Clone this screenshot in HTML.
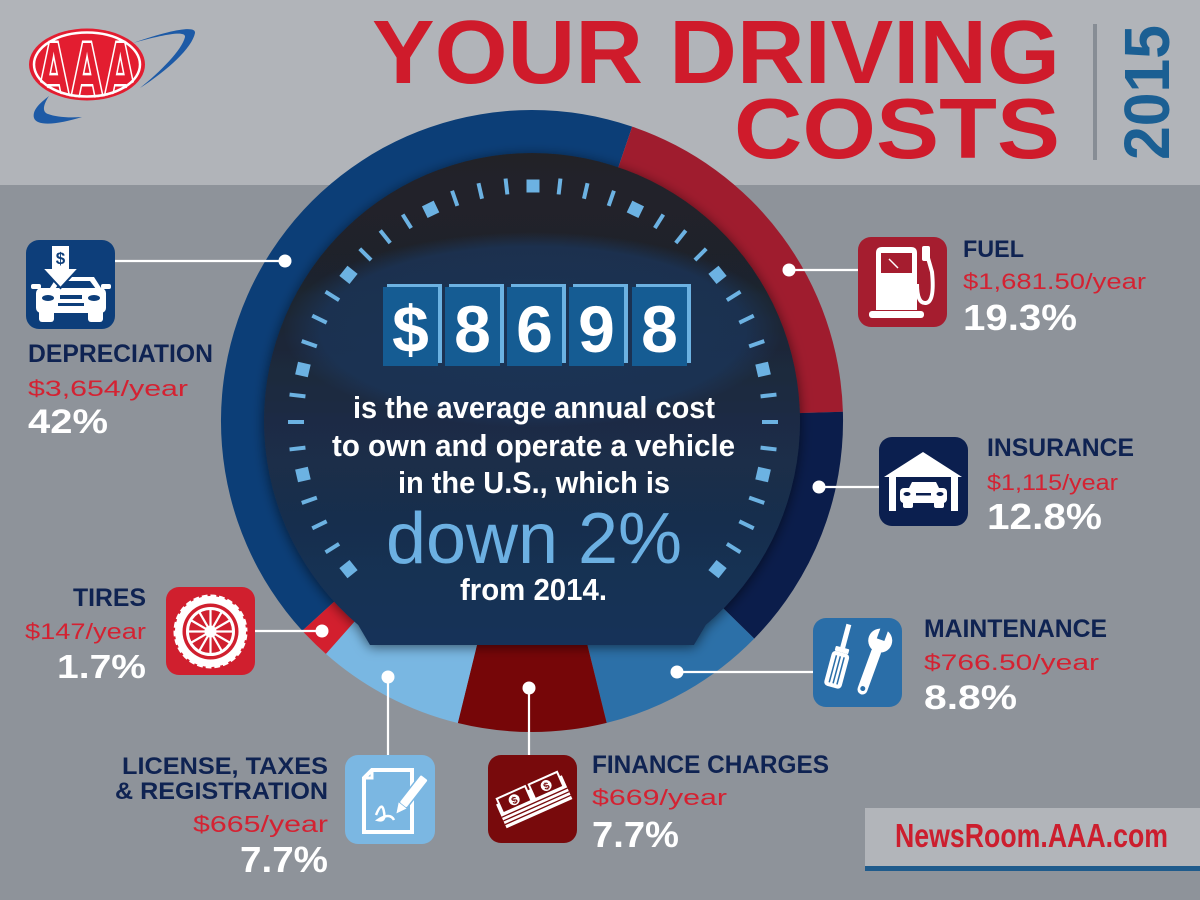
<!DOCTYPE html>
<html><head><meta charset="utf-8"><title>Your Driving Costs 2015</title>
<style>
html,body{margin:0;padding:0;background:#8e939a;}
svg{display:block;}
text{font-family:"Liberation Sans",Arial,sans-serif;}
</style></head>
<body>
<svg width="1200" height="900" viewBox="0 0 1200 900" xmlns="http://www.w3.org/2000/svg">
<defs>
  <linearGradient id="innerG" x1="0" y1="0" x2="0" y2="1">
    <stop offset="0" stop-color="#212328"/>
    <stop offset="0.25" stop-color="#1f242d"/>
    <stop offset="0.55" stop-color="#1b2c45"/>
    <stop offset="1" stop-color="#163259"/>
  </linearGradient>
  <radialGradient id="glow" cx="0.5" cy="0.5" r="0.5">
    <stop offset="0" stop-color="#1b3558" stop-opacity="0.9"/>
    <stop offset="0.85" stop-color="#1b3457" stop-opacity="0.8"/>
    <stop offset="1" stop-color="#1b3457" stop-opacity="0"/>
  </radialGradient>
  <filter id="sh" x="-20%" y="-20%" width="140%" height="140%">
    <feDropShadow dx="0" dy="2" stdDeviation="6" flood-color="#000" flood-opacity="0.55"/>
  </filter>
  <clipPath id="innerClip">
    <path d="M370,645 L358.2,625 A268,268 0 1,1 705.8,625 L694,645 Z"/>
  </clipPath>
  <clipPath id="logoClip">
    <ellipse cx="87" cy="64.5" rx="55" ry="33.5"/>
  </clipPath>
</defs>

<!-- backgrounds -->
<rect x="0" y="0" width="1200" height="900" fill="#8e939a"/>
<rect x="0" y="0" width="1200" height="185" fill="#b1b4b9"/>

<!-- AAA logo -->
<path d="M140,88 C168,70 192,48 195,33 C196,26 176,28 133,43 C162,35 186,30 185,37 C182,50 160,72 140,88 Z" fill="#1d5aa6"/>
<path d="M82,117 C60,124 37,127 34,118 C32,110 40,103 49,96 C43,105 42,112 48,114 C56,117 68,118 82,117 Z" fill="#1d5aa6"/>
<ellipse cx="87" cy="64.5" rx="58" ry="36" fill="#e31d30"/>
<g clip-path="url(#logoClip)">
  <text x="37" y="98" font-size="80" font-weight="bold" fill="#e31d30" stroke="#fff" stroke-width="5" paint-order="stroke" textLength="100" lengthAdjust="spacingAndGlyphs">AAA</text>
</g>
<ellipse cx="87" cy="64.5" rx="53" ry="32" fill="none" stroke="#fff" stroke-width="2.5"/>

<!-- Title -->
<text x="372" y="83" font-size="90" font-weight="bold" fill="#cf1b2b" textLength="688" lengthAdjust="spacingAndGlyphs">YOUR DRIVING</text>
<text x="734" y="158" font-size="85" font-weight="bold" fill="#cf1b2b" textLength="326" lengthAdjust="spacingAndGlyphs">COSTS</text>
<rect x="1093" y="24" width="4" height="136" fill="#878d95"/>
<text transform="translate(1169,160) rotate(-90)" x="0" y="0" font-size="64" font-weight="bold" fill="#1b5f93" textLength="135" lengthAdjust="spacingAndGlyphs">2015</text>

<!-- Ring segments -->
<path d="M532,421 L302.3,630.7 A311,311 0 0,1 632.2,126.6 Z" fill="#0c3e77"/>
<path d="M532,421 L632.2,126.6 A311,311 0 0,1 842.9,411.8 Z" fill="#9f1c2e"/>
<path d="M532,421 L842.9,411.8 A311,311 0 0,1 754.2,638.6 Z" fill="#0b1d4b"/>
<path d="M532,421 L754.2,638.6 A311,311 0 0,1 606.7,722.9 Z" fill="#2c70a8"/>
<path d="M532,421 L606.7,722.9 A311,311 0 0,1 457.8,723.0 Z" fill="#760608"/>
<path d="M532,421 L457.8,723.0 A311,311 0 0,1 325.9,653.9 Z" fill="#79b7e2"/>
<path d="M532,421 L325.9,653.9 A311,311 0 0,1 302.3,630.7 Z" fill="#d31f2e"/>

<!-- Inner dial -->
<path d="M370,645 L358.2,625 A268,268 0 1,1 705.8,625 L694,645 Z" fill="url(#innerG)" filter="url(#sh)"/>
<g clip-path="url(#innerClip)">
  <ellipse cx="533" cy="330" rx="250" ry="98" fill="url(#glow)"/>
</g>

<!-- Ticks -->
<g transform="translate(533,422)" fill="#6cb2e2">
  <rect x="-6.5" y="-242.5" width="13" height="13" transform="rotate(-128.57)"/>
  <rect x="-2" y="-245" width="4" height="16" transform="rotate(-122.14)"/>
  <rect x="-2" y="-245" width="4" height="16" transform="rotate(-115.71)"/>
  <rect x="-2" y="-245" width="4" height="16" transform="rotate(-109.29)"/>
  <rect x="-6.5" y="-242.5" width="13" height="13" transform="rotate(-102.86)"/>
  <rect x="-2" y="-245" width="4" height="16" transform="rotate(-96.43)"/>
  <rect x="-2" y="-245" width="4" height="16" transform="rotate(-90)"/>
  <rect x="-2" y="-245" width="4" height="16" transform="rotate(-83.57)"/>
  <rect x="-6.5" y="-242.5" width="13" height="13" transform="rotate(-77.14)"/>
  <rect x="-2" y="-245" width="4" height="16" transform="rotate(-70.71)"/>
  <rect x="-2" y="-245" width="4" height="16" transform="rotate(-64.29)"/>
  <rect x="-2" y="-245" width="4" height="16" transform="rotate(-57.86)"/>
  <rect x="-6.5" y="-242.5" width="13" height="13" transform="rotate(-51.43)"/>
  <rect x="-2" y="-245" width="4" height="16" transform="rotate(-45)"/>
  <rect x="-2" y="-245" width="4" height="16" transform="rotate(-38.57)"/>
  <rect x="-2" y="-245" width="4" height="16" transform="rotate(-32.14)"/>
  <rect x="-6.5" y="-242.5" width="13" height="13" transform="rotate(-25.71)"/>
  <rect x="-2" y="-245" width="4" height="16" transform="rotate(-19.29)"/>
  <rect x="-2" y="-245" width="4" height="16" transform="rotate(-12.86)"/>
  <rect x="-2" y="-245" width="4" height="16" transform="rotate(-6.43)"/>
  <rect x="-6.5" y="-242.5" width="13" height="13"/>
  <rect x="-2" y="-245" width="4" height="16" transform="rotate(6.43)"/>
  <rect x="-2" y="-245" width="4" height="16" transform="rotate(12.86)"/>
  <rect x="-2" y="-245" width="4" height="16" transform="rotate(19.29)"/>
  <rect x="-6.5" y="-242.5" width="13" height="13" transform="rotate(25.71)"/>
  <rect x="-2" y="-245" width="4" height="16" transform="rotate(32.14)"/>
  <rect x="-2" y="-245" width="4" height="16" transform="rotate(38.57)"/>
  <rect x="-2" y="-245" width="4" height="16" transform="rotate(45)"/>
  <rect x="-6.5" y="-242.5" width="13" height="13" transform="rotate(51.43)"/>
  <rect x="-2" y="-245" width="4" height="16" transform="rotate(57.86)"/>
  <rect x="-2" y="-245" width="4" height="16" transform="rotate(64.29)"/>
  <rect x="-2" y="-245" width="4" height="16" transform="rotate(70.71)"/>
  <rect x="-6.5" y="-242.5" width="13" height="13" transform="rotate(77.14)"/>
  <rect x="-2" y="-245" width="4" height="16" transform="rotate(83.57)"/>
  <rect x="-2" y="-245" width="4" height="16" transform="rotate(90)"/>
  <rect x="-2" y="-245" width="4" height="16" transform="rotate(96.43)"/>
  <rect x="-6.5" y="-242.5" width="13" height="13" transform="rotate(102.86)"/>
  <rect x="-2" y="-245" width="4" height="16" transform="rotate(109.29)"/>
  <rect x="-2" y="-245" width="4" height="16" transform="rotate(115.71)"/>
  <rect x="-2" y="-245" width="4" height="16" transform="rotate(122.14)"/>
  <rect x="-6.5" y="-242.5" width="13" height="13" transform="rotate(128.57)"/>
</g>

<!-- Counter boxes -->
<g>
  <rect x="387" y="284" width="55" height="79" fill="#6cb2e2"/>
  <rect x="449" y="284" width="55" height="79" fill="#6cb2e2"/>
  <rect x="511" y="284" width="55" height="79" fill="#6cb2e2"/>
  <rect x="573" y="284" width="55" height="79" fill="#6cb2e2"/>
  <rect x="636" y="284" width="55" height="79" fill="#6cb2e2"/>
  <rect x="383" y="287" width="55" height="79" fill="#155c93"/>
  <rect x="445" y="287" width="55" height="79" fill="#155c93"/>
  <rect x="507" y="287" width="55" height="79" fill="#155c93"/>
  <rect x="569" y="287" width="55" height="79" fill="#155c93"/>
  <rect x="632" y="287" width="55" height="79" fill="#155c93"/>
  <g font-size="66" font-weight="bold" fill="#fff" text-anchor="middle">
    <text x="410.5" y="352">$</text>
    <text x="472.5" y="352">8</text>
    <text x="534.5" y="352">6</text>
    <text x="596.5" y="352">9</text>
    <text x="659.5" y="352">8</text>
  </g>
</g>

<!-- Center text -->
<text x="353" y="418" font-size="31" font-weight="bold" fill="#fff" textLength="362" lengthAdjust="spacingAndGlyphs">is the average annual cost</text>
<text x="332" y="456" font-size="31" font-weight="bold" fill="#fff" textLength="403" lengthAdjust="spacingAndGlyphs">to own and operate a vehicle</text>
<text x="398" y="493" font-size="31" font-weight="bold" fill="#fff" textLength="272" lengthAdjust="spacingAndGlyphs">in the U.S., which is</text>
<text x="386" y="563" font-size="72" fill="#6cb0e2" textLength="296" lengthAdjust="spacingAndGlyphs">down 2%</text>
<text x="460" y="600" font-size="31" font-weight="bold" fill="#fff" textLength="147" lengthAdjust="spacingAndGlyphs">from 2014.</text>

<!-- Connector lines and dots -->
<g stroke="#fff" stroke-width="2.2">
  <line x1="115" y1="261" x2="285" y2="261"/>
  <line x1="789" y1="270" x2="858" y2="270"/>
  <line x1="819" y1="487" x2="879" y2="487"/>
  <line x1="677" y1="672" x2="813" y2="672"/>
  <line x1="529" y1="688" x2="529" y2="755"/>
  <line x1="388" y1="677" x2="388" y2="755"/>
  <line x1="255" y1="631" x2="322" y2="631"/>
</g>
<g fill="#fff">
  <circle cx="285" cy="261" r="6.5"/>
  <circle cx="789" cy="270" r="6.5"/>
  <circle cx="819" cy="487" r="6.5"/>
  <circle cx="677" cy="672" r="6.5"/>
  <circle cx="529" cy="688" r="6.5"/>
  <circle cx="388" cy="677" r="6.5"/>
  <circle cx="322" cy="631" r="6.5"/>
</g>

<!-- Depreciation icon -->
<rect x="26" y="240" width="89" height="89" rx="13" fill="#0d3e7a"/>
<g>
  <path d="M48,291 L57,277 L94,277 L103,291 Z" fill="#fff"/>
  <path d="M55,289 L61,281 L90,281 L96,289 Z" fill="#0d3e7a"/>
  <rect x="36" y="288" width="70" height="25" rx="5" fill="#fff"/>
  <rect x="39" y="308" width="15" height="14" rx="3" fill="#fff"/>
  <rect x="88" y="308" width="15" height="14" rx="3" fill="#fff"/>
  <rect x="31" y="284" width="10" height="5" rx="2" fill="#fff"/>
  <rect x="101" y="284" width="10" height="5" rx="2" fill="#fff"/>
  <ellipse cx="48" cy="298" rx="6" ry="3" fill="#0d3e7a"/>
  <ellipse cx="94" cy="298" rx="6" ry="3" fill="#0d3e7a"/>
  <rect x="60" y="295" width="22" height="4" fill="#0d3e7a"/>
  <rect x="58" y="303" width="26" height="3" fill="#0d3e7a"/>
  <path d="M51,245 L70,245 L70,268 L79,268 L60.5,288 L42,268 L51,268 Z" fill="#fff" stroke="#0d3e7a" stroke-width="2"/>
  <text x="60.5" y="264" font-size="17" font-weight="bold" fill="#0d3e7a" text-anchor="middle">$</text>
</g>

<!-- Fuel icon -->
<rect x="858" y="237" width="89" height="90" rx="13" fill="#a51d2f"/>
<g>
  <path d="M876,310 L876,253 Q876,247 882,247 L911,247 Q917,247 917,253 L917,310 Z" fill="#fff"/>
  <rect x="881" y="253" width="31" height="20" fill="#a51d2f"/>
  <line x1="889" y1="259" x2="898" y2="268" stroke="#fff" stroke-width="1.5"/>
  <rect x="869" y="311" width="55" height="7" rx="3" fill="#fff"/>
  <path d="M917,284 Q917,304 926,303 Q935,302 932,272 L928,258" fill="none" stroke="#fff" stroke-width="4"/>
  <rect x="922" y="246" width="8" height="15" rx="2" fill="#fff"/>
</g>

<!-- Insurance icon -->
<rect x="879" y="437" width="89" height="89" rx="13" fill="#0b1f4f"/>
<g fill="#fff">
  <polygon points="884,477 923,452 962,477"/>
  <rect x="889" y="476" width="7" height="35"/>
  <rect x="951" y="476" width="7" height="35"/>
  <path d="M908,490 L912,482 L936,482 L940,490 Z"/>
  <rect x="900" y="488" width="47" height="15" rx="4"/>
  <rect x="903" y="499" width="10" height="9" rx="2"/>
  <rect x="934" y="499" width="10" height="9" rx="2"/>
  <ellipse cx="907" cy="494" rx="3.5" ry="2" fill="#0b1f4f"/>
  <ellipse cx="940" cy="494" rx="3.5" ry="2" fill="#0b1f4f"/>
  <rect x="916" y="493" width="15" height="2.5" fill="#0b1f4f"/>
</g>

<!-- Maintenance icon -->
<rect x="813" y="618" width="89" height="89" rx="13" fill="#2a6ea8"/>
<g fill="#fff">
  <g transform="translate(838,665) rotate(15)">
    <rect x="-2.5" y="-42" width="5" height="26"/>
    <rect x="-7" y="-18" width="14" height="5" rx="1"/>
    <rect x="-9" y="-13" width="18" height="36" rx="4"/>
    <g stroke="#2a6ea8" stroke-width="1.5">
      <line x1="-4" y1="-9" x2="-4" y2="19"/>
      <line x1="0" y1="-9" x2="0" y2="19"/>
      <line x1="4" y1="-9" x2="4" y2="19"/>
    </g>
  </g>
  <g transform="translate(871,666) rotate(20)">
    <rect x="-5" y="-20" width="10" height="50" rx="5"/>
    <circle cx="0" cy="-27" r="12"/>
    <rect x="-4" y="-44" width="8" height="16" fill="#2a6ea8"/>
    <circle cx="0" cy="24" r="2.5" fill="#2a6ea8"/>
  </g>
</g>

<!-- Tires icon -->
<rect x="166" y="587" width="89" height="88" rx="13" fill="#d01f2e"/>
<g>
  <circle cx="210.5" cy="631.5" r="37" fill="#fff"/>
  <circle cx="210.5" cy="631.5" r="37" fill="none" stroke="#d01f2e" stroke-width="3" stroke-dasharray="3 6"/>
  <circle cx="210.5" cy="631.5" r="28" fill="#d01f2e"/>
  <circle cx="210.5" cy="631.5" r="23" fill="none" stroke="#fff" stroke-width="3"/>
  <g stroke="#fff" stroke-width="2.2">
    <line x1="210.5" y1="608.5" x2="210.5" y2="654.5"/>
    <line x1="187.5" y1="631.5" x2="233.5" y2="631.5"/>
    <line x1="199" y1="611.6" x2="222" y2="651.4"/>
    <line x1="222" y1="611.6" x2="199" y2="651.4"/>
    <line x1="190.6" y1="620" x2="230.4" y2="643"/>
    <line x1="190.6" y1="643" x2="230.4" y2="620"/>
  </g>
  <circle cx="210.5" cy="631.5" r="6" fill="#fff"/>
</g>

<!-- License icon -->
<rect x="345" y="755" width="90" height="89" rx="13" fill="#7bb7e2"/>
<g>
  <path d="M372,770 L412,770 L412,832 L364,832 L364,778 Z" fill="none" stroke="#fff" stroke-width="4"/>
  <path d="M364,778 L372,778 L372,770" fill="none" stroke="#fff" stroke-width="3"/>
  <g transform="translate(410,796) rotate(38)">
    <rect x="-5" y="-24" width="10" height="36" rx="2" fill="#fff" stroke="#7bb7e2" stroke-width="1.5"/>
    <polygon points="-5,12 5,12 0,22" fill="#fff"/>
  </g>
  <path d="M376,815 Q382,800 384,812 Q386,822 378,820 Q390,812 394,820" fill="none" stroke="#fff" stroke-width="2.5"/>
</g>

<!-- Finance icon -->
<rect x="488" y="755" width="89" height="88" rx="13" fill="#780a0c"/>
<g transform="translate(533,799) rotate(-24)">
  <rect x="-36" y="-10" width="72" height="26" fill="#fff"/>
  <g stroke="#780a0c" stroke-width="1.3">
    <line x1="-36" y1="4" x2="36" y2="4"/>
    <line x1="-36" y1="8" x2="36" y2="8"/>
    <line x1="-36" y1="12" x2="36" y2="12"/>
  </g>
  <rect x="-33" y="-15" width="31" height="16" fill="#780a0c" stroke="#fff" stroke-width="2"/>
  <rect x="2" y="-15" width="31" height="16" fill="#780a0c" stroke="#fff" stroke-width="2"/>
  <circle cx="-17.5" cy="-7" r="5.5" fill="#fff"/>
  <circle cx="17.5" cy="-7" r="5.5" fill="#fff"/>
  <text x="-17.5" y="-3" font-size="10" font-weight="bold" fill="#780a0c" text-anchor="middle">$</text>
  <text x="17.5" y="-3" font-size="10" font-weight="bold" fill="#780a0c" text-anchor="middle">$</text>
</g>

<!-- Labels -->
<g font-weight="bold">
  <!-- Depreciation -->
  <text x="28" y="362" font-size="25" fill="#0f2352" textLength="185" lengthAdjust="spacingAndGlyphs">DEPRECIATION</text>
  <text x="28" y="396" font-size="22" fill="#d42232" font-weight="normal" textLength="160" lengthAdjust="spacingAndGlyphs">$3,654/year</text>
  <text x="28" y="433" font-size="34" fill="#fff" textLength="80" lengthAdjust="spacingAndGlyphs">42%</text>

  <!-- Fuel -->
  <text x="963" y="257" font-size="24" fill="#0f2352" textLength="61" lengthAdjust="spacingAndGlyphs">FUEL</text>
  <text x="963" y="289" font-size="22" fill="#d42232" font-weight="normal" textLength="183" lengthAdjust="spacingAndGlyphs">$1,681.50/year</text>
  <text x="963" y="330" font-size="36" fill="#fff" textLength="114" lengthAdjust="spacingAndGlyphs">19.3%</text>

  <!-- Insurance -->
  <text x="987" y="456" font-size="25" fill="#0f2352" textLength="147" lengthAdjust="spacingAndGlyphs">INSURANCE</text>
  <text x="987" y="490" font-size="22" fill="#d42232" font-weight="normal" textLength="131" lengthAdjust="spacingAndGlyphs">$1,115/year</text>
  <text x="987" y="529" font-size="36" fill="#fff" textLength="115" lengthAdjust="spacingAndGlyphs">12.8%</text>

  <!-- Maintenance -->
  <text x="924" y="637" font-size="25" fill="#0f2352" textLength="183" lengthAdjust="spacingAndGlyphs">MAINTENANCE</text>
  <text x="924" y="670" font-size="22" fill="#d42232" font-weight="normal" textLength="175" lengthAdjust="spacingAndGlyphs">$766.50/year</text>
  <text x="924" y="709" font-size="34" fill="#fff" textLength="93" lengthAdjust="spacingAndGlyphs">8.8%</text>

  <!-- Finance -->
  <text x="592" y="773" font-size="25" fill="#0f2352" textLength="237" lengthAdjust="spacingAndGlyphs">FINANCE CHARGES</text>
  <text x="592" y="805" font-size="22" fill="#d42232" font-weight="normal" textLength="135" lengthAdjust="spacingAndGlyphs">$669/year</text>
  <text x="592" y="847" font-size="36" fill="#fff" textLength="87" lengthAdjust="spacingAndGlyphs">7.7%</text>

  <!-- Tires -->
  <text x="73" y="606" font-size="25" fill="#0f2352" textLength="73" lengthAdjust="spacingAndGlyphs">TIRES</text>
  <text x="25" y="639" font-size="22" fill="#d42232" font-weight="normal" textLength="121" lengthAdjust="spacingAndGlyphs">$147/year</text>
  <text x="57" y="678" font-size="33" fill="#fff" textLength="89" lengthAdjust="spacingAndGlyphs">1.7%</text>

  <!-- License -->
  <text x="122" y="774" font-size="24" fill="#0f2352" textLength="206" lengthAdjust="spacingAndGlyphs">LICENSE, TAXES</text>
  <text x="115" y="799" font-size="24" fill="#0f2352" textLength="213" lengthAdjust="spacingAndGlyphs">&amp; REGISTRATION</text>
  <text x="193" y="832" font-size="23" fill="#d42232" font-weight="normal" textLength="135" lengthAdjust="spacingAndGlyphs">$665/year</text>
  <text x="240" y="872" font-size="36" fill="#fff" textLength="88" lengthAdjust="spacingAndGlyphs">7.7%</text>
</g>

<!-- NewsRoom box -->
<rect x="865" y="808" width="335" height="58" fill="#b2b5ba"/>
<rect x="865" y="866" width="335" height="5" fill="#1f5b8c"/>
<text x="895" y="847" font-size="33" font-weight="bold" fill="#cc1e2e" textLength="273" lengthAdjust="spacingAndGlyphs">NewsRoom.AAA.com</text>
</svg>
</body></html>
